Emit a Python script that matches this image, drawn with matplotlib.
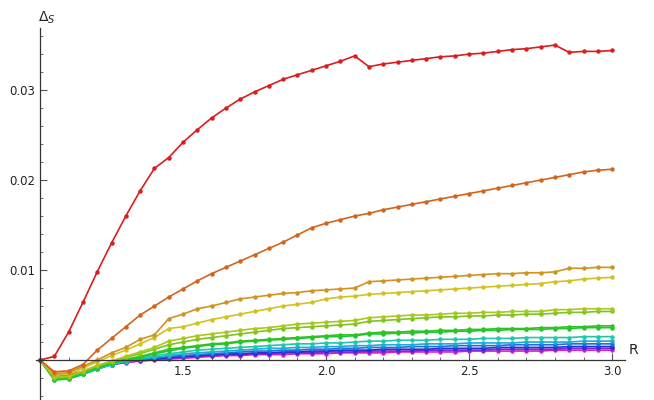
import numpy as np
import matplotlib
matplotlib.use("Agg")
import matplotlib.pyplot as plt
from matplotlib.ticker import MultipleLocator

R = [round(1.0 + 0.05 * i, 2) for i in range(41)]

red = [0, 0.0004, 0.0031, 0.0064, 0.0098, 0.0130, 0.0160, 0.0188, 0.0213, 0.0225,
       0.0242, 0.0256, 0.0269, 0.0280, 0.0290, 0.0298, 0.0305, 0.0312, 0.0317, 0.0322,
       0.0327, 0.0332, 0.0338, 0.0326, 0.0329, 0.0331, 0.0333, 0.0335, 0.0337, 0.0338,
       0.0340, 0.0341, 0.0343, 0.0345, 0.0346, 0.0348, 0.0350, 0.0342, 0.0343, 0.0343,
       0.0344]
orange_red = [0, -0.0013, -0.0012, -0.0005, 0.0011, 0.0024, 0.0037, 0.0050, 0.0060, 0.0070,
              0.0079, 0.0088, 0.0096, 0.0103, 0.0110, 0.0117, 0.0124, 0.0131, 0.0139, 0.0147,
              0.0152, 0.0156, 0.0160, 0.0163, 0.0167, 0.0170, 0.0173, 0.0176, 0.0179, 0.0182,
              0.0185, 0.0188, 0.0191, 0.0194, 0.0197, 0.0200, 0.0203, 0.0206, 0.0209, 0.0211,
              0.0212]
orange = [0, -0.0015, -0.0014, -0.0007, 0.0000, 0.0008, 0.0014, 0.0023, 0.0028, 0.0046,
          0.0051, 0.0057, 0.0060, 0.0064, 0.0068, 0.0070, 0.0072, 0.0074, 0.0075, 0.0077,
          0.0078, 0.0079, 0.0080, 0.0087, 0.0088, 0.0089, 0.0090, 0.0091, 0.0092, 0.0093,
          0.0094, 0.0095, 0.0096, 0.0096, 0.0097, 0.0097, 0.0098, 0.0102, 0.0102, 0.0103,
          0.0103]
yellow = [0, -0.0017, -0.0016, -0.0009, -0.0002, 0.0005, 0.0011, 0.0018, 0.0025, 0.0035,
          0.0037, 0.0041, 0.0045, 0.0048, 0.0051, 0.0054, 0.0057, 0.0060, 0.0062, 0.0064,
          0.0068, 0.0070, 0.0071, 0.0073, 0.0074, 0.0075, 0.0076, 0.0077, 0.0078, 0.0079,
          0.0080, 0.0081, 0.0082, 0.0083, 0.0084, 0.0085, 0.0087, 0.0088, 0.0090, 0.0091,
          0.0092]
yellow_green = [0, -0.0019, -0.0018, -0.0012, -0.0006, -0.0001, 0.0004, 0.0009, 0.0014, 0.0021,
                0.0024, 0.0027, 0.0029, 0.0031, 0.0033, 0.0035, 0.0036, 0.0038, 0.0040, 0.0041,
                0.0042, 0.0043, 0.0044, 0.0047, 0.0048, 0.0049, 0.0050, 0.0050, 0.0051, 0.0052,
                0.0052, 0.0053, 0.0053, 0.0054, 0.0054, 0.0054, 0.0056, 0.0056, 0.0057, 0.0057,
                0.0057]
green_yellow = [0, -0.0020, -0.0019, -0.0013, -0.0007, -0.0002, 0.0003, 0.0007, 0.0012, 0.0017,
                0.0020, 0.0023, 0.0025, 0.0027, 0.0029, 0.0031, 0.0033, 0.0035, 0.0036, 0.0037,
                0.0038, 0.0039, 0.0040, 0.0043, 0.0044, 0.0045, 0.0046, 0.0047, 0.0048, 0.0048,
                0.0049, 0.0049, 0.0050, 0.0050, 0.0051, 0.0051, 0.0052, 0.0053, 0.0053, 0.0054,
                0.0054]
green1 = [0, -0.0021, -0.0020, -0.0014, -0.0008, -0.0003, 0.0001, 0.0004, 0.0008, 0.0012,
          0.0014, 0.0016, 0.0018, 0.0019, 0.0021, 0.0022, 0.0023, 0.0024, 0.0025, 0.0026,
          0.0027, 0.0028, 0.0028, 0.0030, 0.0031, 0.0031, 0.0032, 0.0032, 0.0033, 0.0033,
          0.0034, 0.0034, 0.0035, 0.0035, 0.0035, 0.0036, 0.0036, 0.0037, 0.0037, 0.0038,
          0.0038]
green2 = [0, -0.0022, -0.0021, -0.0015, -0.0009, -0.0004, 0.0000, 0.0003, 0.0007, 0.0010,
          0.0013, 0.0015, 0.0017, 0.0018, 0.0020, 0.0021, 0.0022, 0.0023, 0.0024, 0.0025,
          0.0026, 0.0026, 0.0027, 0.0029, 0.0029, 0.0030, 0.0030, 0.0031, 0.0031, 0.0032,
          0.0032, 0.0033, 0.0033, 0.0034, 0.0034, 0.0034, 0.0035, 0.0035, 0.0036, 0.0036,
          0.0036]
teal = [0, -0.0022, -0.0021, -0.0016, -0.0010, -0.0005, -0.0001, 0.0002, 0.0005, 0.0007,
        0.0009, 0.0011, 0.0012, 0.0013, 0.0014, 0.0015, 0.0016, 0.0017, 0.0018, 0.0018,
        0.0019, 0.0019, 0.0020, 0.0021, 0.0021, 0.0022, 0.0022, 0.0022, 0.0023, 0.0023,
        0.0023, 0.0024, 0.0024, 0.0024, 0.0025, 0.0025, 0.0025, 0.0025, 0.0026, 0.0026,
        0.0026]
sky = [0, -0.0021, -0.0020, -0.0016, -0.0010, -0.0005, -0.0002, 0.0001, 0.0003, 0.0005,
       0.0007, 0.0008, 0.0009, 0.0010, 0.0011, 0.0012, 0.0013, 0.0013, 0.0014, 0.0014,
       0.0015, 0.0015, 0.0016, 0.0016, 0.0017, 0.0017, 0.0017, 0.0018, 0.0018, 0.0018,
       0.0019, 0.0019, 0.0019, 0.0019, 0.0020, 0.0020, 0.0020, 0.0020, 0.0021, 0.0021,
       0.0021]
blue = [0, -0.0020, -0.0019, -0.0015, -0.0010, -0.0005, -0.0002, 0.0000, 0.0002, 0.0004,
        0.0005, 0.0006, 0.0007, 0.0008, 0.0009, 0.0010, 0.0010, 0.0011, 0.0011, 0.0012,
        0.0012, 0.0013, 0.0013, 0.0014, 0.0014, 0.0014, 0.0015, 0.0015, 0.0015, 0.0016,
        0.0016, 0.0016, 0.0016, 0.0017, 0.0017, 0.0017, 0.0017, 0.0018, 0.0018, 0.0018,
        0.0018]
dark_blue = [0, -0.0019, -0.0018, -0.0014, -0.0009, -0.0005, -0.0002, 0.0000, 0.0001, 0.0003,
             0.0004, 0.0005, 0.0006, 0.0007, 0.0007, 0.0008, 0.0008, 0.0009, 0.0009, 0.0010,
             0.0010, 0.0011, 0.0011, 0.0011, 0.0012, 0.0012, 0.0012, 0.0012, 0.0013, 0.0013,
             0.0013, 0.0013, 0.0014, 0.0014, 0.0014, 0.0014, 0.0014, 0.0015, 0.0015, 0.0015,
             0.0015]
purple = [0, -0.0018, -0.0017, -0.0013, -0.0009, -0.0005, -0.0002, -0.0001, 0.0001, 0.0002,
          0.0003, 0.0004, 0.0005, 0.0006, 0.0006, 0.0007, 0.0007, 0.0008, 0.0008, 0.0008,
          0.0009, 0.0009, 0.0009, 0.0010, 0.0010, 0.0010, 0.0010, 0.0011, 0.0011, 0.0011,
          0.0011, 0.0011, 0.0012, 0.0012, 0.0012, 0.0012, 0.0012, 0.0013, 0.0013, 0.0013,
          0.0013]
magenta = [0, -0.0017, -0.0016, -0.0013, -0.0009, -0.0005, -0.0003, -0.0001, 0.0000, 0.0001,
           0.0002, 0.0003, 0.0004, 0.0005, 0.0005, 0.0006, 0.0006, 0.0006, 0.0007, 0.0007,
           0.0007, 0.0008, 0.0008, 0.0008, 0.0008, 0.0009, 0.0009, 0.0009, 0.0009, 0.0009,
           0.0010, 0.0010, 0.0010, 0.0010, 0.0010, 0.0010, 0.0011, 0.0011, 0.0011, 0.0011,
           0.0011]

series = [red, orange_red, orange, yellow, yellow_green, green_yellow, green1, green2,
          teal, sky, blue, dark_blue, purple, magenta]
colors = ["#d81e1e", "#d2651e", "#d2921e", "#d2c21e", "#a8c81e", "#7cc41e", "#2ec41e",
          "#1ec43a", "#1ec8a8", "#1eaad8", "#1e6ee0", "#2030d0", "#8a20d0", "#d020d0"]

fig = plt.figure(figsize=(6.54, 4.0), dpi=100)
ax = fig.add_axes([35.7 / 654, 0.0, (625 - 35.7) / 654, 372 / 400])
for ys, c in zip(series[::-1], colors[::-1]):
    ax.plot(R, ys, color=c, lw=1.2, marker='o', ms=2.2, mec=c, mfc=c)

ax.set_xlim(0.985, 3.045)
ax.set_ylim(-0.00444, 0.0369)
for s in ['top', 'right']:
    ax.spines[s].set_visible(False)
ax.spines['bottom'].set_position(('data', 0))
ax.spines['left'].set_position(('data', 1.0))
for s in ['bottom', 'left']:
    ax.spines[s].set_color('#333333')
    ax.spines[s].set_linewidth(0.9)
ax.xaxis.set_major_locator(MultipleLocator(0.5))
ax.xaxis.set_minor_locator(MultipleLocator(0.1))
ax.yaxis.set_major_locator(MultipleLocator(0.01))
ax.yaxis.set_minor_locator(MultipleLocator(0.002))
ax.set_xticks([1.5, 2.0, 2.5, 3.0])
ax.set_xticklabels(['1.5', '2.0', '2.5', '3.0'])
ax.set_yticks([0.01, 0.02, 0.03])
ax.set_yticklabels(['0.01', '0.02', '0.03'])
ax.tick_params(which='both', direction='in', colors='#555555', labelcolor='#222222',
               labelsize=8.5)
ax.tick_params(which='major', length=5)
ax.tick_params(which='minor', length=2.5)
ax.patch.set_alpha(0)
fig.text(38 / 654, 1 - 18 / 400, r'$\Delta_S$', fontsize=10, color='#222222', va='center')
fig.text(629 / 654, 1 - 350 / 400, 'R', fontsize=10, color='#222222', va='center')
fig.savefig('out.png', dpi=100)
